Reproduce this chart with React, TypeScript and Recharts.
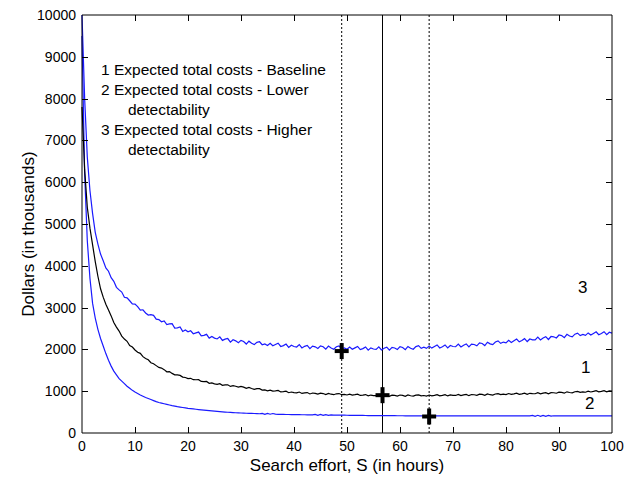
import React from 'react';
import { ComposedChart, Line, Scatter, XAxis, YAxis, ReferenceLine } from 'recharts';

// search effort S (hours), sampled every half hour
const effort = [
  0, 0.5, 1, 1.5, 2, 2.5, 3, 3.5, 4, 4.5, 5,
  5.5, 6, 6.5, 7, 7.5, 8, 8.5, 9, 9.5, 10,
  10.5, 11, 11.5, 12, 12.5, 13, 13.5, 14, 14.5, 15,
  15.5, 16, 16.5, 17, 17.5, 18, 18.5, 19, 19.5, 20,
  20.5, 21, 21.5, 22, 22.5, 23, 23.5, 24, 24.5, 25,
  25.5, 26, 26.5, 27, 27.5, 28, 28.5, 29, 29.5, 30,
  30.5, 31, 31.5, 32, 32.5, 33, 33.5, 34, 34.5, 35,
  35.5, 36, 36.5, 37, 37.5, 38, 38.5, 39, 39.5, 40,
  40.5, 41, 41.5, 42, 42.5, 43, 43.5, 44, 44.5, 45,
  45.5, 46, 46.5, 47, 47.5, 48, 48.5, 49, 49.5, 50,
  50.5, 51, 51.5, 52, 52.5, 53, 53.5, 54, 54.5, 55,
  55.5, 56, 56.5, 57, 57.5, 58, 58.5, 59, 59.5, 60,
  60.5, 61, 61.5, 62, 62.5, 63, 63.5, 64, 64.5, 65,
  65.5, 66, 66.5, 67, 67.5, 68, 68.5, 69, 69.5, 70,
  70.5, 71, 71.5, 72, 72.5, 73, 73.5, 74, 74.5, 75,
  75.5, 76, 76.5, 77, 77.5, 78, 78.5, 79, 79.5, 80,
  80.5, 81, 81.5, 82, 82.5, 83, 83.5, 84, 84.5, 85,
  85.5, 86, 86.5, 87, 87.5, 88, 88.5, 89, 89.5, 90,
  90.5, 91, 91.5, 92, 92.5, 93, 93.5, 94, 94.5, 95,
  95.5, 96, 96.5, 97, 97.5, 98, 98.5, 99, 99.5, 100,
];

// curve 1 - baseline (thousands of dollars)
const costBaseline = [
  7800, 6300, 5400, 4900, 4500, 4100, 3750, 3450, 3250, 3080, 2940,
  2802, 2642, 2533, 2438, 2318, 2248, 2194, 2094, 2056, 1986,
  1932, 1906, 1826, 1782, 1752, 1682, 1658, 1612, 1568, 1554,
  1516, 1464, 1469, 1426, 1391, 1390, 1378, 1337, 1327, 1300,
  1309, 1276, 1274, 1276, 1233, 1230, 1233, 1190, 1199, 1176,
  1164, 1180, 1142, 1150, 1152, 1114, 1132, 1118, 1096, 1114,
  1098, 1068, 1090, 1064, 1046, 1062, 1062, 1028, 1030, 1010,
  1027, 1002, 1008, 1018, 983, 988, 999, 964, 981, 966,
  959, 980, 947, 960, 967, 934, 957, 948, 931, 954,
  944, 920, 948, 928, 916, 938, 944, 916, 924, 910,
  930, 908, 917, 930, 898, 906, 920, 888, 908, 896,
  892, 915, 885, 900, 910, 879, 905, 898, 884, 909,
  901, 879, 909, 891, 881, 905, 913, 887, 897, 885,
  908, 889, 901, 917, 888, 899, 916, 887, 910, 901,
  898, 923, 894, 911, 922, 893, 920, 915, 902, 929,
  922, 902, 933, 916, 908, 933, 943, 918, 930, 920,
  944, 925, 938, 954, 926, 937, 955, 926, 950, 941,
  939, 965, 937, 955, 967, 939, 967, 963, 951, 979,
  973, 953, 985, 969, 961, 987, 997, 973, 985, 975,
  999, 981, 994, 1011, 983, 995, 1013, 985, 1009, 1001,
];

// curve 2 - lower detectability
const costLower = [
  9500, 6200, 4600, 3700, 3100, 2750, 2480, 2260, 2080, 1900, 1740,
  1600, 1480, 1390, 1300, 1240, 1180, 1120, 1070, 1020, 980,
  945, 910, 880, 850, 825, 800, 775, 750, 730, 715,
  700, 685, 670, 655, 642, 630, 620, 610, 600, 590,
  582, 575, 568, 561, 554, 547, 540, 534, 528, 522,
  516, 511, 506, 501, 497, 493, 489, 485, 482, 479,
  476, 473, 470, 468, 466, 463, 461, 470, 447, 468,
  449, 466, 452, 446, 445, 444, 443, 442, 441, 440,
  439, 438, 437, 436, 436, 435, 434, 446, 424, 443,
  422, 440, 421, 435, 430, 429, 428, 427, 426, 425,
  424, 423, 422, 421, 420, 420, 419, 418, 418, 417,
  417, 416, 416, 415, 415, 414, 414, 414, 413, 413,
  413, 412, 412, 412, 412, 411, 411, 411, 411, 411,
  410, 410, 410, 410, 410, 410, 410, 410, 410, 410,
  410, 410, 410, 410, 410, 410, 410, 410, 410, 410,
  410, 410, 410, 410, 410, 410, 410, 410, 410, 410,
  410, 410, 410, 410, 410, 410, 410, 410, 410, 422,
  400, 424, 398, 422, 400, 420, 402, 412, 410, 410,
  410, 410, 410, 410, 410, 410, 410, 410, 410, 410,
  410, 410, 410, 410, 410, 410, 410, 410, 410, 410,
];

// curve 3 - higher detectability
const costHigher = [
  10000, 8000, 6600, 5800, 5250, 4800, 4520, 4280, 4120, 3950, 3870,
  3716, 3628, 3485, 3424, 3371, 3248, 3234, 3164, 3089, 3085,
  3022, 2938, 2948, 2872, 2822, 2830, 2816, 2724, 2714, 2660,
  2680, 2595, 2610, 2615, 2510, 2515, 2535, 2430, 2465, 2420,
  2445, 2375, 2395, 2415, 2325, 2335, 2360, 2270, 2310, 2270,
  2250, 2300, 2215, 2245, 2260, 2175, 2230, 2205, 2160, 2215,
  2189, 2128, 2197, 2146, 2115, 2169, 2183, 2112, 2131, 2095,
  2146, 2087, 2118, 2149, 2070, 2091, 2127, 2048, 2099, 2070,
  2057, 2114, 2036, 2073, 2095, 2017, 2079, 2061, 2023, 2085,
  2063, 2006, 2079, 2032, 2005, 2063, 2081, 2014, 2037, 2005,
  2059, 2003, 2037, 2071, 1995, 2019, 2058, 1982, 2036, 2010,
  2001, 2062, 1988, 2029, 2055, 1981, 2047, 2033, 1999, 2065,
  2047, 1994, 2071, 2028, 2005, 2067, 2089, 2026, 2053, 2025,
  2083, 2031, 2069, 2107, 2035, 2063, 2106, 2034, 2092, 2070,
  2064, 2128, 2057, 2101, 2130, 2059, 2128, 2117, 2086, 2155,
  2141, 2091, 2172, 2132, 2113, 2178, 2204, 2144, 2175, 2155,
  2216, 2167, 2208, 2249, 2180, 2211, 2257, 2188, 2249, 2230,
  2227, 2294, 2226, 2273, 2305, 2237, 2309, 2301, 2273, 2345,
  2330, 2280, 2360, 2320, 2300, 2365, 2390, 2330, 2360, 2335,
  2394, 2343, 2382, 2421, 2350, 2379, 2423, 2352, 2411, 2390,
];

// optimal search effort for each scenario (3, 1, 2)
const optimumEffort = [49, 56.7, 65.5];
const optimumCost = [1960, 905, 395];

const xTicks = [0, 10, 20, 30, 40, 50, 60, 70, 80, 90, 100];
const yTicks = [0, 1000, 2000, 3000, 4000, 5000, 6000, 7000, 8000, 9000, 10000];

const FONT = '"Liberation Sans", Arial, sans-serif';

// plot box in page pixels (follows from the chart margins and axis sizes below)
const BOX = { left: 82, right: 612, top: 15, bottom: 433 };
const TICK_LEN = 6;

const TickLabel = (props: any) => {
  const { x, y, payload, side } = props;
  if (side === 'bottom') {
    return (
      <text x={x} y={y + 8} dy="0.71em" textAnchor="middle" fontSize={14} fontFamily={FONT} fill="#000">
        {payload.value}
      </text>
    );
  }
  return (
    <text x={x - 6} y={y} dy="0.355em" textAnchor="end" fontSize={14} fontFamily={FONT} fill="#000">
      {payload.value}
    </text>
  );
};

const PlusMarker = (props: any) => {
  const { cx, cy } = props;
  if (cx == null || cy == null) return null;
  return (
    <g>
      <rect x={cx - 7} y={cy - 2} width={14} height={4} fill="#000" />
      <rect x={cx - 2} y={cy - 8} width={4} height={16} fill="#000" />
    </g>
  );
};

// MATLAB style inward tick marks on all four sides of the box
const InwardTicks = () => {
  const w = BOX.right - BOX.left;
  const h = BOX.bottom - BOX.top;
  const xs = xTicks.slice(1, -1).map((v) => Math.round(BOX.left + (v / 100) * w) + 0.5);
  const ys = yTicks.slice(1, -1).map((v) => Math.round(BOX.bottom - (v / 10000) * h) + 0.5);
  return (
    <svg width={626} height={478} style={{ position: 'absolute', left: 0, top: 0, pointerEvents: 'none' }}>
      {xs.map((x) => (
        <g key={`x${x}`}>
          <line x1={x} y1={BOX.bottom} x2={x} y2={BOX.bottom - TICK_LEN} stroke="#000" strokeWidth={1} />
          <line x1={x} y1={BOX.top} x2={x} y2={BOX.top + TICK_LEN} stroke="#000" strokeWidth={1} />
        </g>
      ))}
      {ys.map((y) => (
        <g key={`y${y}`}>
          <line x1={BOX.left} y1={y} x2={BOX.left + TICK_LEN} y2={y} stroke="#000" strokeWidth={1} />
          <line x1={BOX.right} y1={y} x2={BOX.right - TICK_LEN} y2={y} stroke="#000" strokeWidth={1} />
        </g>
      ))}
    </svg>
  );
};

export default function App() {
  const rows = effort.map((s, i) => ({
    s,
    baseline: costBaseline[i],
    lower: costLower[i],
    higher: costHigher[i],
  }));
  const optima = optimumEffort.map((s, i) => ({ s, cost: optimumCost[i] }));

  const axisCommon = { tickSize: 0, tickMargin: 0, tickLine: false, stroke: '#000', interval: 0 as const };

  return (
    <div style={{ position: 'absolute', left: 0, top: 0, width: 626, height: 478, background: '#fff', fontFamily: FONT, color: '#000' }}>
      <ComposedChart width={626} height={478} data={rows} margin={{ top: 14, right: 13, bottom: 15, left: 20 }}>
        <XAxis
          {...axisCommon}
          dataKey="s"
          type="number"
          domain={[0, 100]}
          ticks={xTicks}
          height={30}
          tick={<TickLabel side="bottom" />}
        />
        <XAxis
          {...axisCommon}
          xAxisId="top"
          orientation="top"
          type="number"
          domain={[0, 100]}
          ticks={xTicks}
          height={1}
          tick={false}
        />
        <YAxis
          {...axisCommon}
          type="number"
          domain={[0, 10000]}
          ticks={yTicks}
          width={62}
          tick={<TickLabel side="left" />}
        />
        <YAxis
          {...axisCommon}
          yAxisId="right"
          orientation="right"
          type="number"
          domain={[0, 10000]}
          ticks={yTicks}
          width={1}
          tick={false}
        />
        <ReferenceLine x={optimumEffort[0]} stroke="#000" strokeDasharray="2 2" />
        <ReferenceLine x={optimumEffort[1]} stroke="#000" />
        <ReferenceLine x={optimumEffort[2]} stroke="#000" strokeDasharray="2 2" />
        <Line type="linear" dataKey="lower" stroke="#1a1aff" strokeWidth={1.2} dot={false} isAnimationActive={false} />
        <Line type="linear" dataKey="baseline" stroke="#000" strokeWidth={1.2} dot={false} isAnimationActive={false} />
        <Line type="linear" dataKey="higher" stroke="#1a1aff" strokeWidth={1.2} dot={false} isAnimationActive={false} />
        <Scatter data={optima} dataKey="cost" shape={<PlusMarker />} isAnimationActive={false} />
      </ComposedChart>

      <InwardTicks />

      <div style={{ position: 'absolute', left: 101, top: 60, fontSize: 15.5, lineHeight: '20px', whiteSpace: 'nowrap' }}>
        <div>1 Expected total costs - Baseline</div>
        <div>2 Expected total costs - Lower</div>
        <div style={{ paddingLeft: 27 }}>detectability</div>
        <div>3 Expected total costs - Higher</div>
        <div style={{ paddingLeft: 27 }}>detectability</div>
      </div>

      <div style={{ position: 'absolute', left: 578, top: 278, fontSize: 17 }}>3</div>
      <div style={{ position: 'absolute', left: 581, top: 358, fontSize: 17 }}>1</div>
      <div style={{ position: 'absolute', left: 585, top: 394, fontSize: 17 }}>2</div>

      <div style={{ position: 'absolute', left: 82, width: 530, top: 456, fontSize: 17, textAlign: 'center', whiteSpace: 'nowrap' }}>
        Search effort, S (in hours)
      </div>
      <div style={{ position: 'absolute', left: 29, top: 234, fontSize: 17, whiteSpace: 'nowrap', transform: 'translate(-50%, -50%) rotate(-90deg)' }}>
        Dollars (in thousands)
      </div>
    </div>
  );
}
